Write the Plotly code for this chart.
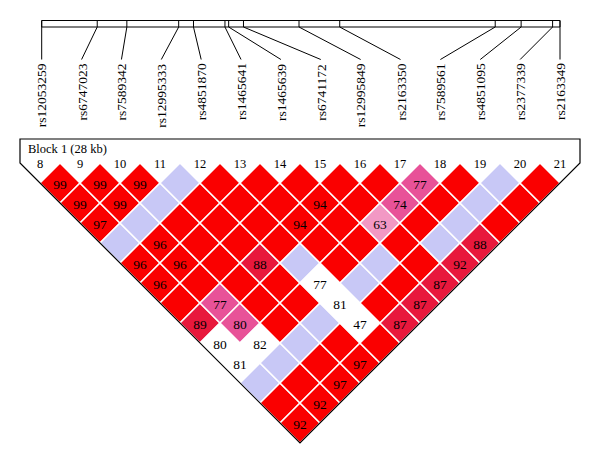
import plotly.graph_objects as go

# ---------------- data ----------------
marker_ids = ["rs12053259", "rs6747023", "rs7589342", "rs12995333", "rs4851870",
              "rs1465641", "rs1465639", "rs6741172", "rs12995849", "rs2163350",
              "rs7589561", "rs4851095", "rs2377339", "rs2163349"]
marker_numbers = list(range(8, 22))
positions_kb = [0.0, 3.0, 4.6, 7.4, 8.2, 9.9, 10.1, 10.9, 13.9, 16.1, 24.5, 25.9, 27.6, 28.0]
block_label = "Block 1 (28 kb)"

# LD class for pair (i, j>i): R = D'=1 strong, C/P/L = strong D'<1 (shades), B = weak D'=1, W = weak D'<1
ld_class = [
    "RRRBRRRCWWBRR",
    "RRBRRRPPWBRR",
    "RBRRRRRRBRR",
    "BRRRCRRBRR",
    "RRRRBWWWR",
    "RRRRRBRC",
    "RRRRBRC",
    "RRLRRC",
    "RPRBC",
    "PRBC",
    "RBR",
    "BR",
    "R",
]
# D' x100 shown in the cell (None = 100, not shown)
dprime = [
    [99, 99, 97, None, 96, 96, None, 89, 80, 81, None, None, 92],
    [99, 99, None, 96, 96, None, 77, 80, 82, None, None, 92],
    [99, None, None, None, None, None, None, None, None, None, 97],
    [None, None, None, None, 88, None, None, None, None, 97],
    [None, None, None, None, None, 77, 81, 47, None],
    [None, None, 94, None, None, None, None, 87],
    [None, 94, None, None, None, None, 87],
    [None, None, 63, None, None, 87],
    [None, 74, None, None, 92],
    [77, None, None, 88],
    [None, None, None],
    [None, None],
    [None],
]

# ---------------- style / layout ----------------
# the page body has an 8px margin: the plot area starts at page pixel (8, 8)
OFF = 8
W, H = 584, 448
FONT = "Liberation Serif, Times New Roman, serif"
colors = {
    "R": "rgb(250,0,0)",
    "C": "rgb(232,24,60)",
    "P": "rgb(232,82,152)",
    "L": "rgb(242,152,196)",
    "B": "rgb(200,200,246)",
    "W": "rgb(255,255,255)",
}
CX0, CDX = 40.0, 40.0      # cell lattice
CY0, CH = 163.0, 20.0      # level baseline and half-size
BAR_X0, BAR_X1 = 41.7, 560.0
BAR_Y0, BAR_Y1 = 20.5, 27.0
LAB_X0, LAB_DX = 41.7, (560.0 - 41.7) / 13
LAB_TOP = 59.5

n = len(marker_ids)
shapes = []

def cell_center(i, j):
    return CX0 + CDX / 2 * (i + j), CY0 + CH * (j - i)

# cells
txt_x, txt_y, txt_s = [], [], []
for i in range(n - 1):
    for k, cls in enumerate(ld_class[i]):
        j = i + 1 + k
        cx, cy = cell_center(i, j)
        path = (f"M {cx-CH},{cy} L {cx},{cy-CH} L {cx+CH},{cy} L {cx},{cy+CH} Z")
        shapes.append(dict(type="path", path=path, xref="x", yref="y",
                           fillcolor=colors[cls], line=dict(color="white", width=1.5),
                           layer="below"))
        v = dprime[i][k]
        if v is not None:
            txt_x.append(cx)
            txt_y.append(cy + 2.5)
            txt_s.append(str(v))

# outline of the block triangle
x_first, _ = cell_center(0, 0)
x_last, _ = cell_center(n - 1, n - 1)
_, y_bottom = cell_center(0, n - 1)
top_y = 139
outline = (f"M {x_first-CH},{top_y} L {x_last+CH},{top_y} L {x_last+CH},{CY0} "
           f"L {(x_first+x_last)/2},{y_bottom+CH} L {x_first-CH},{CY0} Z")
shapes.append(dict(type="path", path=outline, xref="x", yref="y",
                   line=dict(color="black", width=1.2), fillcolor="rgba(0,0,0,0)"))

# marker map bar
span = positions_kb[-1] - positions_kb[0]
tick_x = [BAR_X0 + (p - positions_kb[0]) / span * (BAR_X1 - BAR_X0) for p in positions_kb]
shapes.append(dict(type="rect", x0=BAR_X0, x1=BAR_X1, y0=BAR_Y0, y1=BAR_Y1, xref="x", yref="y",
                   line=dict(color="black", width=1), fillcolor="white"))
lab_x = [LAB_X0 + LAB_DX * k for k in range(n)]
for k in range(n):
    shapes.append(dict(type="line", x0=tick_x[k], x1=tick_x[k], y0=BAR_Y0, y1=BAR_Y1,
                       xref="x", yref="y", line=dict(color="black", width=1)))
    shapes.append(dict(type="line", x0=tick_x[k], x1=lab_x[k], y0=BAR_Y1, y1=LAB_TOP,
                       xref="x", yref="y", line=dict(color="black", width=1)))

annotations = []
for k in range(n):
    annotations.append(dict(x=lab_x[k], y=LAB_TOP + 2, xref="x", yref="y", text=marker_ids[k],
                            showarrow=False, textangle=-90, xanchor="center", yanchor="top",
                            font=dict(family=FONT, size=13.5, color="black")))
annotations.append(dict(x=26, y=148.5, xref="x", yref="y", text=block_label, showarrow=False,
                        xanchor="left", yanchor="middle",
                        font=dict(family=FONT, size=12.5, color="black")))

fig = go.Figure()
fig.add_trace(go.Scatter(x=txt_x, y=txt_y, text=txt_s, mode="text", textposition="middle center",
                         textfont=dict(family=FONT, size=13.5, color="black"),
                         hoverinfo="skip", showlegend=False))
num_x = [CX0 + CDX * k for k in range(n)]
fig.add_trace(go.Scatter(x=num_x, y=[164.5] * n, text=[str(m) for m in marker_numbers],
                         mode="text", textposition="middle center",
                         textfont=dict(family=FONT, size=12.5, color="black"),
                         hoverinfo="skip", showlegend=False))

fig.update_layout(width=W, height=H, margin=dict(l=0, r=0, t=0, b=0),
                  paper_bgcolor="white", plot_bgcolor="white",
                  xaxis=dict(range=[OFF, OFF + W], visible=False, fixedrange=True),
                  yaxis=dict(range=[OFF + H, OFF], visible=False, fixedrange=True),
                  shapes=shapes, annotations=annotations, showlegend=False)
fig.write_html("out.html")
